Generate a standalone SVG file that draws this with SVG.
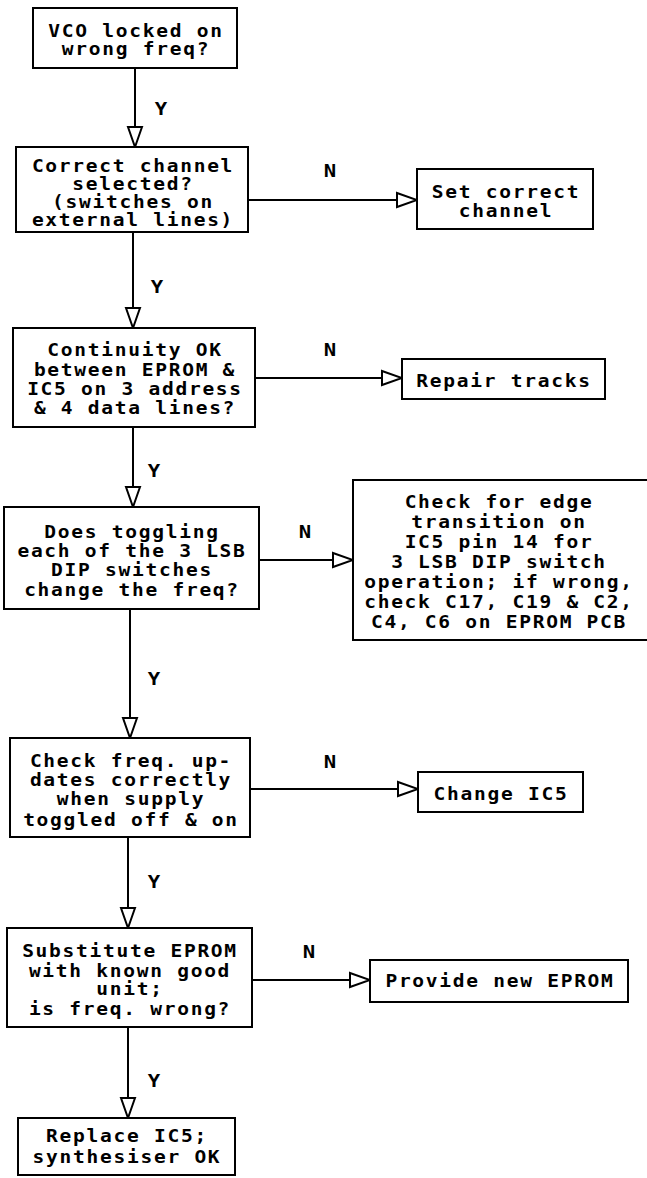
<svg xmlns="http://www.w3.org/2000/svg" width="647" height="1178" viewBox="0 0 647 1178">
<style>
  .box { fill: #fff; stroke: #000; stroke-width: 2; }
  .t { font-family: "DejaVu Sans Mono", "Liberation Mono", monospace; font-size: 17px; font-weight: bold; letter-spacing: 1.5px; text-anchor: middle; fill: #000; transform-box: fill-box; transform-origin: center; transform: scaleX(1.15); }
  .lbl { font-family: "DejaVu Sans Mono", "Liberation Mono", monospace; font-size: 18px; font-weight: bold; text-anchor: middle; fill: #000; transform-box: fill-box; transform-origin: center; transform: scaleX(1.15); }
  .c { fill: none; stroke: #000; stroke-width: 2; }
</style>
<defs>
  <marker id="arr" markerUnits="userSpaceOnUse" markerWidth="24" markerHeight="18" viewBox="-2 -2 24 18" refX="20" refY="7" orient="auto">
    <path d="M0,0 L20,7 L0,14 Z" fill="#fff" stroke="#000" stroke-width="2" stroke-linejoin="miter"/>
  </marker>
</defs>
<rect width="647" height="1178" fill="#fff"/>

<g id="connectors">
  <line class="c" x1="135" y1="68" x2="135" y2="147" marker-end="url(#arr)"/>
  <line class="c" x1="133" y1="232" x2="133" y2="328" marker-end="url(#arr)"/>
  <line class="c" x1="133" y1="427" x2="133" y2="507" marker-end="url(#arr)"/>
  <line class="c" x1="130" y1="609" x2="130" y2="738" marker-end="url(#arr)"/>
  <line class="c" x1="128" y1="837" x2="128" y2="928" marker-end="url(#arr)"/>
  <line class="c" x1="128" y1="1027" x2="128" y2="1118" marker-end="url(#arr)"/>
  <line class="c" x1="248" y1="200" x2="417" y2="200" marker-end="url(#arr)"/>
  <line class="c" x1="255" y1="378" x2="402" y2="378" marker-end="url(#arr)"/>
  <line class="c" x1="259" y1="560" x2="353" y2="560" marker-end="url(#arr)"/>
  <line class="c" x1="250" y1="789" x2="418" y2="789" marker-end="url(#arr)"/>
  <line class="c" x1="252" y1="980" x2="370" y2="980" marker-end="url(#arr)"/>
  <text class="lbl" x="161" y="115">Y</text>
  <text class="lbl" x="157" y="293">Y</text>
  <text class="lbl" x="154" y="477">Y</text>
  <text class="lbl" x="154" y="685">Y</text>
  <text class="lbl" x="154" y="888">Y</text>
  <text class="lbl" x="154" y="1087">Y</text>
  <text class="lbl" x="330" y="177">N</text>
  <text class="lbl" x="330" y="356">N</text>
  <text class="lbl" x="305" y="538">N</text>
  <text class="lbl" x="330" y="768">N</text>
  <text class="lbl" x="309" y="958">N</text>
</g>

<g id="n1">
  <rect class="box" x="33" y="8" width="204" height="60"/>
  <text class="t" x="136" y="37">VCO locked on</text>
  <text class="t" x="136" y="55">wrong freq?</text>
</g>
<g id="n2">
  <rect class="box" x="16" y="147" width="232" height="85"/>
  <text class="t" x="133" y="172">Correct channel</text>
  <text class="t" x="133" y="190">selected?</text>
  <text class="t" x="133" y="208">(switches on</text>
  <text class="t" x="133" y="226">external lines)</text>
</g>
<g id="n3">
  <rect class="box" x="417" y="169" width="176" height="60"/>
  <text class="t" x="506" y="198">Set correct</text>
  <text class="t" x="506" y="217">channel</text>
</g>
<g id="n4">
  <rect class="box" x="13" y="328" width="242" height="99"/>
  <text class="t" x="135" y="356">Continuity OK</text>
  <text class="t" x="135" y="376">between EPROM &amp;</text>
  <text class="t" x="135" y="395">IC5 on 3 address</text>
  <text class="t" x="135" y="414">&amp; 4 data lines?</text>
</g>
<g id="n5">
  <rect class="box" x="402" y="359" width="203" height="40"/>
  <text class="t" x="504" y="387">Repair tracks</text>
</g>
<g id="n6">
  <rect class="box" x="4" y="507" width="255" height="102"/>
  <text class="t" x="132" y="538">Does toggling</text>
  <text class="t" x="132" y="557">each of the 3 LSB</text>
  <text class="t" x="132" y="576">DIP switches</text>
  <text class="t" x="132" y="596">change the freq?</text>
</g>
<g id="n7">
  <rect class="box" x="353" y="480" width="310" height="160"/>
  <text class="t" x="499" y="508">Check for edge</text>
  <text class="t" x="499" y="528">transition on</text>
  <text class="t" x="499" y="548">IC5 pin 14 for</text>
  <text class="t" x="499" y="568">3 LSB DIP switch</text>
  <text class="t" x="499" y="588">operation; if wrong,</text>
  <text class="t" x="499" y="608">check C17, C19 &amp; C2,</text>
  <text class="t" x="499" y="628">C4, C6 on EPROM PCB</text>
</g>
<g id="n8">
  <rect class="box" x="10" y="738" width="240" height="99"/>
  <text class="t" x="131" y="767">Check freq. up-</text>
  <text class="t" x="131" y="786">dates correctly</text>
  <text class="t" x="131" y="805">when supply</text>
  <text class="t" x="131" y="826">toggled off &amp; on</text>
</g>
<g id="n9">
  <rect class="box" x="418" y="772" width="165" height="40"/>
  <text class="t" x="501" y="800">Change IC5</text>
</g>
<g id="n10">
  <rect class="box" x="7" y="928" width="245" height="99"/>
  <text class="t" x="130" y="957">Substitute EPROM</text>
  <text class="t" x="130" y="977">with known good</text>
  <text class="t" x="130" y="995">unit;</text>
  <text class="t" x="130" y="1015">is freq. wrong?</text>
</g>
<g id="n11">
  <rect class="box" x="370" y="960" width="258" height="42"/>
  <text class="t" x="500" y="987">Provide new EPROM</text>
</g>
<g id="n12">
  <rect class="box" x="18" y="1118" width="217" height="57"/>
  <text class="t" x="127" y="1142">Replace IC5;</text>
  <text class="t" x="127" y="1163">synthesiser OK</text>
</g>
</svg>
